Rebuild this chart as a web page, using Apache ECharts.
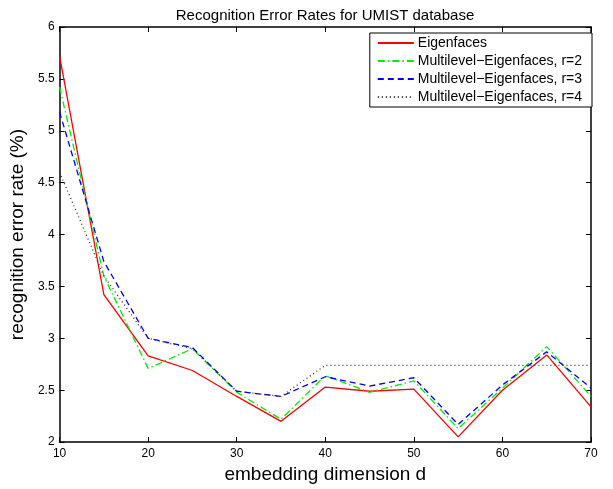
<!DOCTYPE html>
<html>
<head>
<meta charset="utf-8">
<script src="https://cdn.jsdelivr.net/npm/echarts@6/dist/echarts.min.js"></script>
<style>
  html, body { margin: 0; padding: 0; background: #fff; }
  #chart { width: 613px; height: 489px; }
</style>
</head>
<body>
<div id="chart"></div>
<script>
// embedding dimension d
const dims = [10, 15, 20, 25, 30, 35, 40, 45, 50, 55, 60, 65, 70];
// recognition error rate (%)
const eigenfaces = [5.72, 3.42, 2.83, 2.69, 2.44, 2.20, 2.53, 2.49, 2.51, 2.05, 2.50, 2.84, 2.34];
const multiR2 = [5.42, 3.60, 2.71, 2.90, 2.48, 2.22, 2.64, 2.48, 2.59, 2.13, 2.52, 2.92, 2.44];
const multiR3 = [5.18, 3.74, 3.00, 2.91, 2.49, 2.44, 2.63, 2.54, 2.62, 2.17, 2.55, 2.87, 2.52];
const multiR4 = [4.60, 3.60, 3.00, 2.90, 2.49, 2.44, 2.74, 2.74, 2.74, 2.74, 2.74, 2.74, 2.74];

const font = "Liberation Sans, Arial, Helvetica, sans-serif";
const pairs = (ys) => dims.map((d, i) => [d, ys[i]]);

const myChart = echarts.init(document.getElementById("chart"), null, { renderer: "canvas" });

const mkSeries = (name, ys, color, type) => ({
  name: name,
  type: "line",
  data: pairs(ys),
  symbol: "none",
  smooth: false,
  lineStyle: { color: color, width: 1.3, type: type },
  itemStyle: { color: color },
  emphasis: { disabled: true },
  animation: false,
});

const tickCommon = {
  type: "value",
  axisLine: { show: true, lineStyle: { color: "#000", width: 1.5 } },
  axisTick: { show: true, inside: true, length: 5, lineStyle: { color: "#000" } },
  splitLine: { show: false },
};

const option = {
  backgroundColor: "#fff",
  title: {
    text: "Recognition Error Rates for UMIST database",
    left: 320,
    textAlign: "center",
    top: 3,
    textStyle: { fontFamily: font, fontSize: 15, fontWeight: "normal", color: "#000" },
  },
  legend: {
    orient: "vertical",
    right: 21,
    top: 33,
    backgroundColor: "#fff",
    borderColor: "#000",
    borderWidth: 1,
    padding: [3, 10, 3, 7],
    itemWidth: 36,
    itemHeight: 14,
    itemGap: 4,
    itemStyle: { opacity: 0 },
    textStyle: { fontFamily: font, fontSize: 14, color: "#000", padding: [0, 0, 0, -1] },
    data: ["Eigenfaces", "Multilevel−Eigenfaces, r=2", "Multilevel−Eigenfaces, r=3", "Multilevel−Eigenfaces, r=4"],
  },
  grid: { left: 57, right: 22, top: 27, bottom: 41 },
  xAxis: [
    Object.assign({}, tickCommon, {
      min: 10,
      max: 70,
      interval: 10,
      name: "embedding dimension d",
      nameLocation: "middle",
      nameGap: 19,
      nameTextStyle: { fontFamily: font, fontSize: 19, color: "#000" },
      axisLabel: { fontFamily: font, fontSize: 12, color: "#000", margin: 6 },
    }),
    Object.assign({}, tickCommon, {
      position: "top",
      min: 10,
      max: 70,
      interval: 10,
      axisLabel: { show: false },
    }),
  ],
  yAxis: [
    Object.assign({}, tickCommon, {
      min: 2,
      max: 6,
      interval: 0.5,
      name: "recognition error rate (%)",
      nameLocation: "middle",
      nameGap: 28,
      nameTextStyle: { fontFamily: font, fontSize: 19, color: "#000" },
      axisLabel: { fontFamily: font, fontSize: 12, color: "#000", margin: 5 },
    }),
    Object.assign({}, tickCommon, {
      position: "right",
      min: 2,
      max: 6,
      interval: 0.5,
      axisLabel: { show: false },
    }),
  ],
  series: [
    mkSeries("Eigenfaces", eigenfaces, "#ff0000", "solid"),
    mkSeries("Multilevel−Eigenfaces, r=2", multiR2, "#00ee00", [7, 3, 1.5, 3]),
    mkSeries("Multilevel−Eigenfaces, r=3", multiR3, "#0000ff", [6, 4]),
    mkSeries("Multilevel−Eigenfaces, r=4", multiR4, "#333333", [1, 3]),
  ],
};
myChart.setOption(option, true);
</script>
</body>
</html>
